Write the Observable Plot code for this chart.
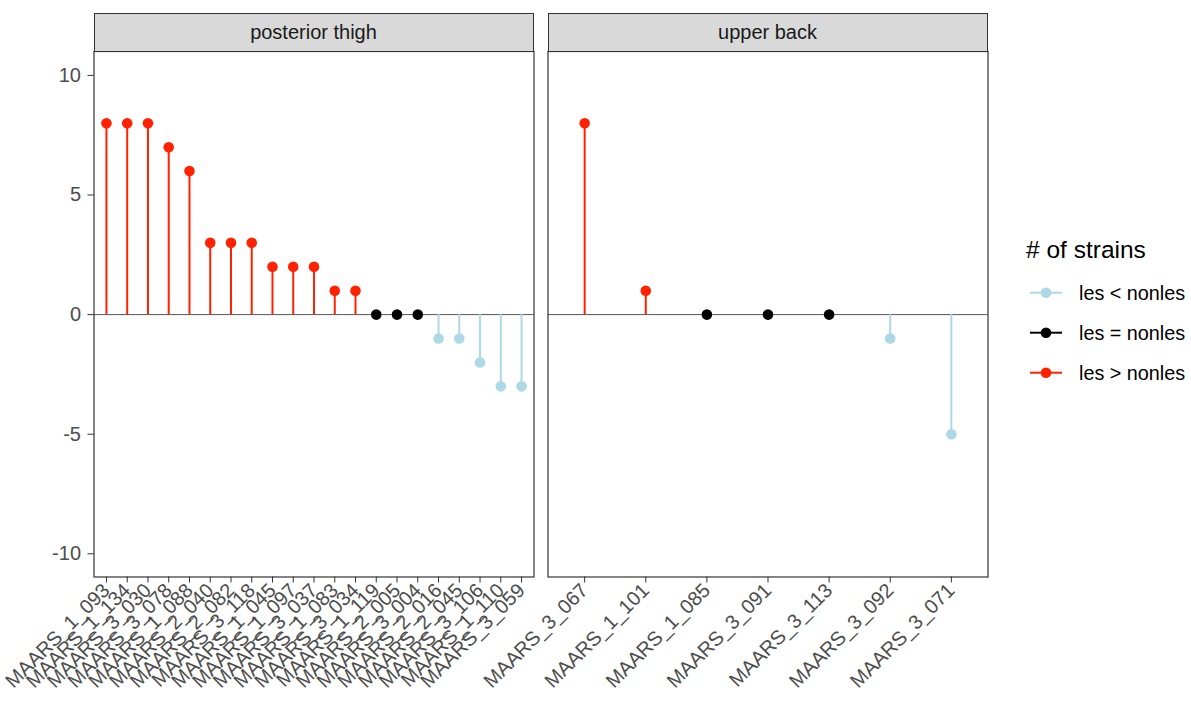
<!DOCTYPE html>
<html>
<head>
<meta charset="utf-8">
<script src="https://cdn.jsdelivr.net/npm/d3@7"></script>
<script src="https://cdn.jsdelivr.net/npm/@observablehq/plot@0.6"></script>
<style>
  body { margin: 0; background: #fff; font-family: "Liberation Sans", Arial, sans-serif; }
  #wrap { position: relative; width: 1191px; height: 702px; overflow: hidden; }
  .strip { position: absolute; box-sizing: border-box; background: #d9d9d9; border: 1.2px solid #333;
           color: #1a1a1a; font-size: 20px; display: flex; align-items: center; justify-content: center; }
  .pl { position: absolute; top: 0; }
</style>
</head>
<body>
<div id="wrap"></div>
<script>
// ---- data ----
const panelNames = ["posterior thigh", "upper back"];
const thighStrains = ["MAARS_1_093","MAARS_1_134","MAARS_3_030","MAARS_3_078","MAARS_1_088","MAARS_2_040","MAARS_2_082",
  "MAARS_3_118","MAARS_1_045","MAARS_1_097","MAARS_3_037","MAARS_1_083","MAARS_3_034","MAARS_1_119","MAARS_2_005",
  "MAARS_3_004","MAARS_2_016","MAARS_2_045","MAARS_3_106","MAARS_1_110","MAARS_3_059"];
const thighValues = [8, 8, 8, 7, 6, 3, 3, 3, 2, 2, 2, 1, 1, 0, 0, 0, -1, -1, -2, -3, -3];
const backStrains = ["MAARS_3_067","MAARS_1_101","MAARS_1_085","MAARS_3_091","MAARS_3_113","MAARS_3_092","MAARS_3_071"];
const backValues = [8, 1, 0, 0, 0, -1, -5];
const categories = ["les < nonles", "les = nonles", "les > nonles"];
const catColors = ["#add8e6", "#000000", "#ff2200"];
const yTicks = [-10, -5, 0, 5, 10];
const legendTitle = "# of strains";

const catOf = v => v < 0 ? categories[0] : v === 0 ? categories[1] : categories[2];
const toRows = (names, vals) => names.map((n, i) => ({name: n, value: vals[i], cat: catOf(vals[i])}));

const wrap = document.getElementById("wrap");
const H = 702, mTop = 51, plotBottom = 576.5;

function panel(rows, names, {left, width, mLeft, mRight, showY}) {
  const marks = [
    Plot.ruleY([0], {stroke: "#555", strokeWidth: 1}),
    Plot.ruleX(rows, {x: "name", y1: 0, y2: "value", stroke: "cat", strokeWidth: 2}),
    Plot.dot(rows, {x: "name", y: "value", fill: "cat", r: 5.3}),
    Plot.axisX({tickRotate: -45, tickSize: 6, tickPadding: 4, fontSize: 20, fill: "#4d4d4d", stroke: "#333", label: null}),
    Plot.frame({stroke: "#333", strokeWidth: 1.2})
  ];
  if (showY) marks.push(Plot.axisY({ticks: yTicks, tickFormat: d => String(d), tickSize: 6, tickPadding: 7,
    fontSize: 20, fill: "#4d4d4d", stroke: "#333", label: null}));
  const svg = Plot.plot({
    width, height: H,
    marginLeft: mLeft, marginRight: mRight, marginTop: mTop, marginBottom: H - plotBottom,
    x: {type: "point", domain: names, padding: 0.6, round: false, axis: null},
    y: {domain: [-10.97, 11], axis: null},
    color: {domain: categories, range: catColors},
    style: {background: "transparent", overflow: "visible", fontFamily: "Liberation Sans, Arial, sans-serif"},
    marks
  });
  svg.classList.add("pl");
  svg.style.left = left + "px";
  wrap.appendChild(svg);
}

panel(toRows(thighStrains, thighValues), thighStrains, {left: 0, width: 540, mLeft: 93.5, mRight: 6.5, showY: true});
panel(toRows(backStrains, backValues), backStrains, {left: 540, width: 455, mLeft: 7.5, mRight: 7.5, showY: false});

// strips
[[93.5, panelNames[0]], [547.5, panelNames[1]]].forEach(([x, t]) => {
  const d = document.createElement("div");
  d.className = "strip";
  d.style.left = x + "px"; d.style.top = "12.7px";
  d.style.width = "440px"; d.style.height = (mTop - 12.7 + 0.6) + "px";
  d.textContent = t;
  wrap.appendChild(d);
});

// legend
const lg = d3.select(wrap).append("svg")
  .attr("width", 191).attr("height", 200)
  .style("position", "absolute").style("left", "1000px").style("top", "220px");
lg.append("text").attr("x", 26).attr("y", 38).attr("font-size", 24.5).attr("fill", "#000")
  .attr("font-family", "Liberation Sans, Arial, sans-serif").text(legendTitle);
categories.forEach((c, i) => {
  const cy = 72.7 + i * 40;
  lg.append("line").attr("x1", 30).attr("x2", 62).attr("y1", cy).attr("y2", cy)
    .attr("stroke", catColors[i]).attr("stroke-width", 2);
  lg.append("circle").attr("cx", 46).attr("cy", cy).attr("r", 5.3).attr("fill", catColors[i]);
  lg.append("text").attr("x", 79).attr("y", cy).attr("dy", "0.35em").attr("font-size", 19.8).attr("fill", "#000")
    .attr("font-family", "Liberation Sans, Arial, sans-serif").text(c);
});
</script>
</body>
</html>
